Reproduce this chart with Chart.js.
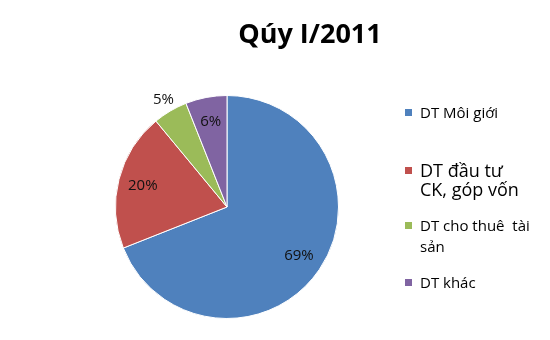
<!DOCTYPE html>
<html>
<head>
<meta charset="utf-8">
<script src="https://cdn.jsdelivr.net/npm/chart.js@4"></script>
<style>
  html, body { margin: 0; padding: 0; background: #fff; }
  #wrap { position: relative; width: 550px; height: 340px; overflow: hidden; font-family: "Open Sans", sans-serif; }
  #chart { position: absolute; left: 0; top: 0; }
  #title { position: absolute; left: 0; width: 620px; top: 14px; text-align: center; font-size: 27px; font-weight: bold; color: #000; }
  #legend { position: absolute; left: 405px; top: 100px; width: 140px; }
  .item { position: absolute; left: 0; display: flex; align-items: flex-start; color: #000; }
  .box { width: 7px; height: 7px; margin-right: 8px; flex: none; }
  .txt { white-space: pre-wrap; }
</style>
</head>
<body>
<div id="wrap">
  <canvas id="chart" width="550" height="340"></canvas>
  <div id="title">Qúy I/2011</div>
  <div id="legend"></div>
</div>
<script>
const labels = ["DT Môi giới", "DT đầu tư CK, góp vốn", "DT cho thuê  tài sản", "DT khác"];
const values = [69, 20, 5, 6];
const colors = ["#4F81BD", "#C0504D", "#9BBB59", "#8064A2"];

// legend look (font size, line height, top, wrap width) per item
const legendFont = [15, 18, 15, 15];
const legendLine = [21, 19, 21, 21];
const legendTop = [1.5, 61, 114.5, 171.5];
const legendWrap = [125, 110, 122, 125];

const legend = document.getElementById("legend");
labels.forEach((l, i) => {
    const it = document.createElement("div");
    it.className = "item";
    it.style.top = legendTop[i] + "px";
    it.style.fontSize = legendFont[i] + "px";
    it.style.lineHeight = legendLine[i] + "px";
    const b = document.createElement("div");
    b.className = "box";
    b.style.background = colors[i];
    b.style.marginTop = (legendLine[i] / 2 - 3.5) + "px";
    const t = document.createElement("div");
    t.className = "txt";
    t.textContent = l;
    t.style.width = legendWrap[i] + "px";
    it.appendChild(b);
    it.appendChild(t);
    legend.appendChild(it);
});

// percent labels, small slices go outside
const pctLabels = {
    id: "pctLabels",
    afterDatasetsDraw(chart) {
        const ctx = chart.ctx;
        const meta = chart.getDatasetMeta(0);
        ctx.save();
        ctx.font = "15px 'Open Sans'";
        ctx.fillStyle = "#111";
        ctx.textAlign = "center";
        ctx.textBaseline = "middle";
        meta.data.forEach((arc, i) => {
            const mid = (arc.startAngle + arc.endAngle) / 2;
            const r = values[i] <= 5 ? arc.outerRadius * 1.12 : arc.outerRadius * 0.78;
            const x = arc.x + Math.cos(mid) * r;
            const y = arc.y + Math.sin(mid) * r;
            ctx.fillText(values[i] + "%", x, y);
        });
        ctx.restore();
    }
};

new Chart(document.getElementById("chart").getContext("2d"), {
    type: "pie",
    data: {
        labels: labels,
        datasets: [{
            data: values,
            backgroundColor: colors,
            borderColor: "#fff",
            borderWidth: 1
        }]
    },
    options: {
        responsive: false,
        animation: false,
        layout: { padding: { left: 115, right: 211, top: 95, bottom: 21 } },
        plugins: {
            legend: { display: false },
            tooltip: { enabled: false }
        }
    },
    plugins: [pctLabels]
});
</script>
</body>
</html>
